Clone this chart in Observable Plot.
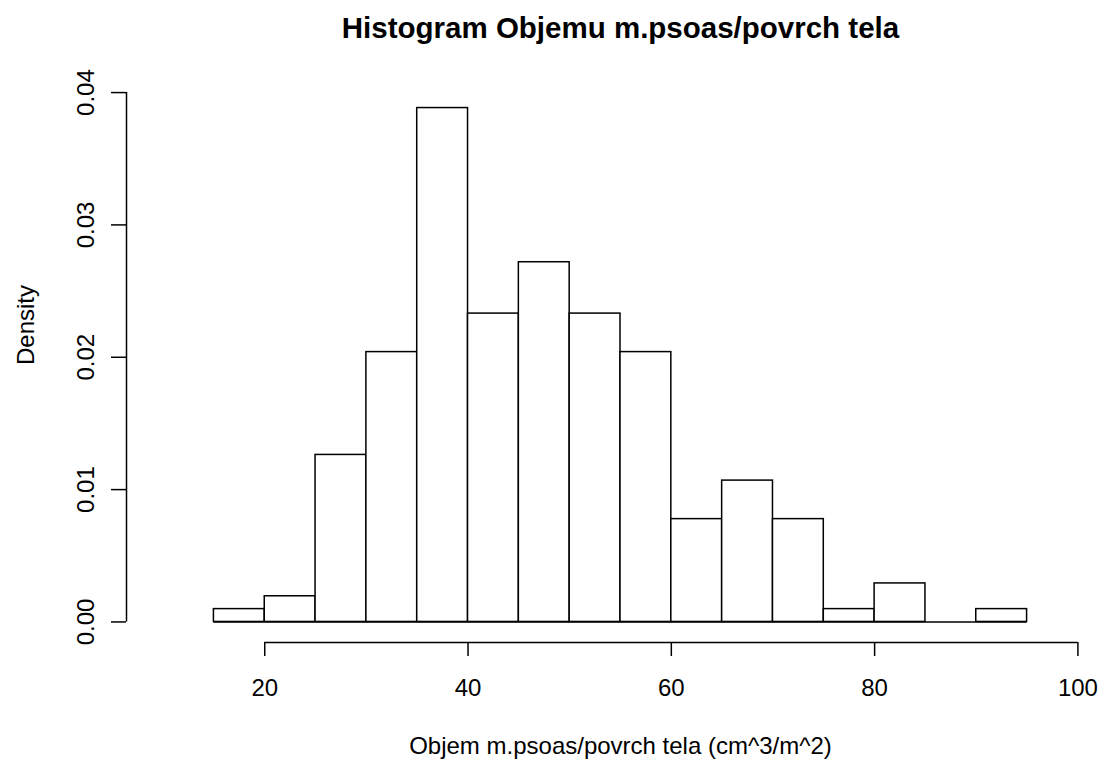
<!DOCTYPE html>
<html>
<head>
<meta charset="utf-8">
<script src="https://cdn.jsdelivr.net/npm/d3@7"></script>
<script src="https://cdn.jsdelivr.net/npm/@observablehq/plot@0.6"></script>
<style>
  html, body { margin: 0; padding: 0; background: #fff; }
  #chart svg { display: block; }
</style>
</head>
<body>
<div id="chart"></div>
<script>
// ---- data ----
const breaks = [15, 20, 25, 30, 35, 40, 45, 50, 55, 60, 65, 70, 75, 80, 85, 90, 95];
const density = [0.00097, 0.00194, 0.01262, 0.02039, 0.03883, 0.02330, 0.02718, 0.02330,
                 0.02039, 0.00777, 0.01068, 0.00777, 0.00097, 0.00291, 0, 0.00097];
const xTicks = [20, 40, 60, 80, 100];
const yTicks = [0, 0.01, 0.02, 0.03, 0.04];
const xLimits = [10, 100];
const titleText = "Histogram Objemu m.psoas/povrch tela";
const xLabel = "Objem m.psoas/povrch tela (cm^3/m^2)";
const yLabel = "Density";

// ---- derived ----
const bins = density.map((d, i) => ({x1: breaks[i], x2: breaks[i + 1], density: d}));
const maxD = d3.max(density);
const xExt = (xLimits[1] - xLimits[0]) * 0.04;
const xDomain = [xLimits[0] - xExt, xLimits[1] + xExt];
const yExt = maxD * 0.04;
const yDomain = [0 - yExt, maxD + yExt];
const xMid = (xDomain[0] + xDomain[1]) / 2;

const font = "'Liberation Sans', Arial, Helvetica, sans-serif";
const lw = 1.5;

const chart = Plot.plot({
  width: 1103,
  height: 763,
  marginLeft: 126,
  marginRight: 0,
  marginTop: 87,
  marginBottom: 121,
  style: {fontFamily: font, fontSize: "24px", background: "#fff", color: "#000", overflow: "visible"},
  x: {type: "linear", domain: xDomain, range: [126, 1114], axis: null, label: null},
  y: {type: "linear", domain: yDomain, axis: null, label: null},
  marks: [
    // bars
    Plot.rectY(bins, {x1: "x1", x2: "x2", y1: 0, y2: "density", fill: "white", stroke: "black", strokeWidth: lw}),
    // zero-height bins baseline
    Plot.ruleY([0], {x1: breaks[0], x2: breaks[breaks.length - 1], stroke: "black", strokeWidth: lw}),
    // x axis
    Plot.ruleY([yDomain[0]], {x1: xTicks[0], x2: xTicks[xTicks.length - 1], stroke: "black", strokeWidth: lw}),
    Plot.axisX({ticks: xTicks, anchor: "bottom", label: null, tickSize: 14, tickFormat: () => "", stroke: "black", strokeWidth: lw, strokeOpacity: 1}),
    Plot.text(xTicks, {x: d => d, frameAnchor: "bottom", dy: 53, lineAnchor: "bottom", text: d => String(d), fontSize: 24}),
    // y axis
    Plot.ruleX([xDomain[0]], {y1: yTicks[0], y2: yTicks[yTicks.length - 1], stroke: "black", strokeWidth: lw}),
    Plot.axisY({ticks: yTicks, anchor: "left", label: null, tickSize: 15, tickFormat: () => "", stroke: "black", strokeWidth: lw, strokeOpacity: 1}),
    Plot.text(yTicks, {y: d => d, x: xDomain[0], dx: -33, rotate: -90, lineAnchor: "bottom", text: d => d3.format(".2f")(d), fontSize: 24}),
    // titles
    Plot.text([titleText], {x: xMid, frameAnchor: "top", dy: -50, lineAnchor: "bottom", fontWeight: "bold", fontSize: 29.5}),
    Plot.text([xLabel], {x: xMid, frameAnchor: "bottom", dy: 111, lineAnchor: "bottom", fontSize: 24}),
    Plot.text([yLabel], {frameAnchor: "left", dx: -93, rotate: -90, lineAnchor: "bottom", fontSize: 24})
  ]
});

document.getElementById("chart").append(chart);
</script>
</body>
</html>
